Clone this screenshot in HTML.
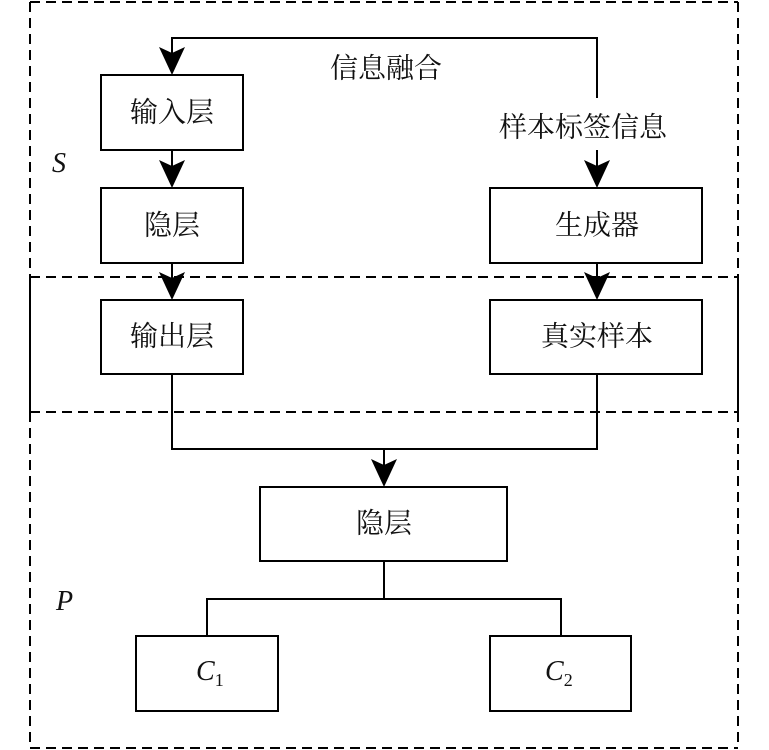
<!DOCTYPE html>
<html><head><meta charset="utf-8"><style>
html,body{margin:0;padding:0;background:#fff;}
svg{display:block;}
text{font-family:"Liberation Serif","Noto Serif CJK SC",serif;fill:#111;}
</style></head><body>
<svg width="769" height="750" viewBox="0 0 769 750" xmlns="http://www.w3.org/2000/svg">
<defs>
<marker id="a" viewBox="0 0 26 28" refX="13" refY="28" markerWidth="26" markerHeight="28" markerUnits="userSpaceOnUse" orient="auto-start-reverse">
</marker>
</defs>
<g stroke="#000" stroke-width="2" fill="none">
<!-- dashed frames -->
<g stroke-dasharray="10,6">
<line x1="30" y1="2" x2="738" y2="2"/>
<line x1="30" y1="2" x2="30" y2="277"/>
<line x1="738" y1="2" x2="738" y2="277"/>
<line x1="30" y1="277" x2="738" y2="277"/>
<line x1="30" y1="412" x2="738" y2="412"/>
<line x1="30" y1="412" x2="30" y2="748"/>
<line x1="738" y1="412" x2="738" y2="748"/>
<line x1="30" y1="748" x2="738" y2="748"/>
</g>
<line x1="30" y1="277" x2="30" y2="412"/>
<line x1="738" y1="277" x2="738" y2="412"/>
<!-- boxes -->
<rect x="101" y="75" width="142" height="75"/>
<rect x="101" y="188" width="142" height="75"/>
<rect x="101" y="300" width="142" height="74"/>
<rect x="490" y="188" width="212" height="75"/>
<rect x="490" y="300" width="212" height="74"/>
<rect x="260" y="487" width="247" height="74"/>
<rect x="136" y="636" width="142" height="75"/>
<rect x="490" y="636" width="141" height="75"/>
<!-- connectors -->
<polyline points="172,60 172,38 597,38 597,98"/>
<line x1="597" y1="150" x2="597" y2="175"/>
<line x1="172" y1="150" x2="172" y2="175"/>
<line x1="172" y1="263" x2="172" y2="288"/>
<line x1="597" y1="263" x2="597" y2="288"/>
<polyline points="172,374 172,449 597,449 597,374"/>
<line x1="384" y1="449" x2="384" y2="475"/>
<polyline points="384,561 384,599"/>
<polyline points="207,636 207,599 561,599 561,636"/>
</g>
<g fill="#000">
<polygon points="159,47 172,53 185,47 172,75"/>
<polygon points="159,160 172,166 185,160 172,188"/>
<polygon points="159,272 172,278 185,272 172,300"/>
<polygon points="584,160 597,166 610,160 597,188"/>
<polygon points="584,272 597,278 610,272 597,300"/>
<polygon points="371,459 384,465 397,459 384,487"/>
</g>
<g font-size="28" text-anchor="middle" dominant-baseline="central">
<text x="386" y="69">信息融合</text>
<text x="583" y="128">样本标签信息</text>
<text x="172" y="113">输入层</text>
<text x="172" y="226">隐层</text>
<text x="172" y="337">输出层</text>
<text x="597" y="226">生成器</text>
<text x="597" y="337">真实样本</text>
<text x="384" y="524">隐层</text>
</g>
<text x="52" y="172" font-size="28" font-style="italic">S</text>
<text x="56" y="610" font-size="28" font-style="italic">P</text>
<text x="196" y="680" font-size="28" font-style="italic">C<tspan font-size="18" font-style="normal" dy="6">1</tspan></text>
<text x="545" y="680" font-size="28" font-style="italic">C<tspan font-size="18" font-style="normal" dy="6">2</tspan></text>
</svg>
</body></html>
